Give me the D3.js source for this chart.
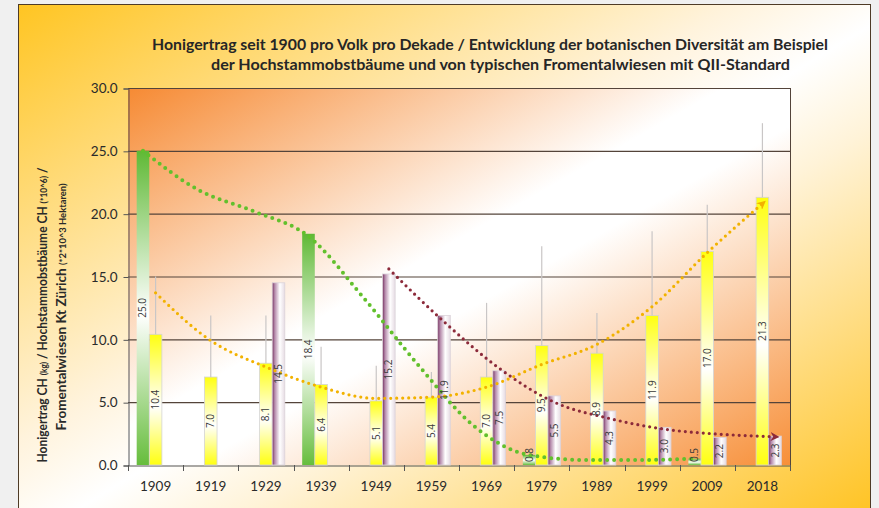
<!DOCTYPE html>
<html>
<head>
<meta charset="utf-8">
<script src="https://cdn.jsdelivr.net/npm/d3@7"></script>
<style>
  body { margin: 0; background: #f0f0f0; }
  svg { display: block; }
</style>
</head>
<body>
<div id="container"></div>
<script>
// data
const years = ['1909', '1919', '1929', '1939', '1949', '1959', '1969', '1979', '1989', '1999', '2009', '2018']
const hochstamm = [25.0, null, null, 18.4, null, null, null, 0.8, null, null, 0.5, null]
const honig = [10.4, 7.0, 8.1, 6.4, 5.1, 5.4, 7.0, 9.5, 8.9, 11.9, 17.0, 21.3]
const honigMax = [15.0, 11.9, 11.9, 9.4, 7.9, 7.4, 12.9, 17.4, 12.1, 18.6, 20.7, 27.2]
const fromental = [null, null, 14.5, null, 15.2, 11.9, 7.5, 5.5, 4.3, 3.0, 2.2, 2.3]

// trend lines (read at each category)
const hochTrend = [25.0, 21.9, 20.2, 18.2, 13.3, 7.9, 3.1, 0.8, 0.4, 0.4, 0.5, null]
const honigTrend = [13.7, 9.9, 7.8, 6.2, 5.3, 5.4, 6.2, 8.0, 9.6, 12.6, 16.9, 20.8]
const fromTrend = [null, null, null, null, 15.6, 11.4, 7.7, 5.0, 3.7, 2.85, 2.45, 2.25]

const yTicks = [0, 5, 10, 15, 20, 25, 30]
const titleLines = [
    'Honigertrag seit 1900 pro Volk pro Dekade / Entwicklung der botanischen Diversität am Beispiel',
    'der Hochstammobstbäume und von typischen Fromentalwiesen mit QII-Standard'
]

const width = 879
const height = 508
const plotL = 128, plotR = 790, plotT = 88, plotB = 465

const svg = d3.select('#container').append('svg')
    .attr('width', width)
    .attr('height', height)
    .style('font-family', 'Lato, "Open Sans", sans-serif')

const defs = svg.append('defs')

function grad(id, x2, y2, stops) {
    const g = defs.append('linearGradient').attr('id', id)
        .attr('x1', 0).attr('y1', 0).attr('x2', x2).attr('y2', y2)
    stops.forEach(s => g.append('stop').attr('offset', s[0]).attr('stop-color', s[1]))
}

grad('outerBg', 1, 1, [[0, '#ffc522'], [0.42, '#fff3dc'], [0.52, '#ffffff'], [0.62, '#fff3d8'], [1, '#ffc21e']])
grad('plotBg', 1, 1, [[0, '#f68a33'], [0.45, '#ffffff'], [0.55, '#ffffff'], [1, '#f78f38']])
grad('gHoch', 0, 1, [[0, '#5fb935'], [0.52, '#ffffff'], [1, '#66bd3c']])
grad('gHonig', 0, 1, [[0, '#ffff10'], [0.55, '#ffffff'], [1, '#ffff10']])
grad('gFrom', 1, 0, [[0, '#75305f'], [0.2, '#b58aab'], [0.6, '#ffffff'], [1, '#e6dbe3']])

function arrow(id, color) {
    defs.append('marker').attr('id', id)
        .attr('viewBox', '0 0 10 10').attr('refX', 5).attr('refY', 5)
        .attr('markerWidth', 9).attr('markerHeight', 9)
        .attr('markerUnits', 'userSpaceOnUse')
        .attr('orient', 'auto')
        .append('path').attr('d', 'M0,0 L10,5 L0,10 L3,5 Z').attr('fill', color)
}
arrow('arYellow', '#f2b200')
arrow('arRed', '#8c2a3a')

// outer chart area
svg.append('rect')
    .attr('x', 18.5).attr('y', 4.5)
    .attr('width', 852).attr('height', 520)
    .attr('fill', 'url(#outerBg)')
    .attr('stroke', '#4e3b26')

// plot area
svg.append('rect')
    .attr('x', plotL).attr('y', plotT)
    .attr('width', plotR - plotL).attr('height', plotB - plotT)
    .attr('fill', 'url(#plotBg)')

const x = d3.scaleBand().domain(years).range([plotL, plotR]).padding(0)
const xs = d3.scaleBand().domain(['hoch', 'honig', 'from'])
    .range([0, x.bandwidth()]).paddingInner(0).paddingOuter(0.69)
const y = d3.scaleLinear().domain([0, 30]).range([plotB, plotT])

// gridlines
svg.append('g').selectAll('line')
    .data(yTicks.filter(d => d > 0))
    .enter().append('line')
    .attr('x1', plotL).attr('x2', plotR)
    .attr('y1', d => y(d) + 0.5).attr('y2', d => y(d) + 0.5)
    .attr('stroke', '#54443a').attr('stroke-width', 1.1)

// right border
svg.append('line')
    .attr('x1', plotR + 0.5).attr('x2', plotR + 0.5)
    .attr('y1', plotT).attr('y2', plotB)
    .attr('stroke', '#54443a')

// y axis
const yAxis = d3.axisLeft(y).tickValues(yTicks).tickFormat(d3.format('.1f')).tickSize(5).tickPadding(6)
const yg = svg.append('g').attr('transform', `translate(${plotL + 0.5},0.5)`).call(yAxis)
yg.select('.domain').attr('stroke', '#555')
yg.selectAll('.tick line').attr('stroke', '#555')
yg.selectAll('.tick text').attr('font-size', 13.5).attr('fill', '#2a2a2a')
    .style('font-family', 'Lato, sans-serif')

// x axis
const xAxis = d3.axisBottom(x).tickSize(0).tickPadding(16)
const xg = svg.append('g').attr('transform', `translate(0,${plotB + 0.5})`).call(xAxis)
xg.select('.domain').attr('stroke', '#555')
xg.selectAll('.tick text').attr('font-size', 13.5).attr('fill', '#2a2a2a')
    .style('font-family', 'Lato, sans-serif')
svg.append('g').selectAll('line')
    .data(years.map(d => x(d)).concat([plotR]))
    .enter().append('line')
    .attr('x1', d => Math.round(d) + 0.5).attr('x2', d => Math.round(d) + 0.5)
    .attr('y1', plotB).attr('y2', plotB + 6)
    .attr('stroke', '#555')

// bars
const series = [
    {key: 'hoch', values: hochstamm, fill: 'url(#gHoch)', stroke: 'none'},
    {key: 'honig', values: honig, fill: 'url(#gHonig)', stroke: '#d4d4d4'},
    {key: 'from', values: fromental, fill: 'url(#gFrom)', stroke: '#dcd4da'}
]

series.forEach(s => {
    const data = years.map((yr, i) => ({year: yr, v: s.values[i]})).filter(d => d.v != null)
    svg.append('g').selectAll('rect')
        .data(data)
        .enter().append('rect')
        .attr('x', d => x(d.year) + xs(s.key))
        .attr('y', d => y(d.v))
        .attr('width', xs.bandwidth())
        .attr('height', d => y(0) - y(d.v))
        .attr('fill', s.fill)
        .attr('stroke', s.stroke)
        .attr('stroke-width', 0.8)
})

// error bars on honig
svg.append('g').selectAll('line')
    .data(years.map((yr, i) => ({year: yr, v: honig[i], m: honigMax[i]})))
    .enter().append('line')
    .attr('x1', d => x(d.year) + xs('honig') + xs.bandwidth() / 2)
    .attr('x2', d => x(d.year) + xs('honig') + xs.bandwidth() / 2)
    .attr('y1', d => y(d.v))
    .attr('y2', d => y(d.m))
    .attr('stroke', '#c9c6c6').attr('stroke-width', 1.2)

// trend lines
const trends = [
    {key: 'hoch', values: hochTrend, color: '#62c02c', w: 4, dash: '0 7', marker: null},
    {key: 'honig', values: honigTrend, color: '#f2b200', w: 3.2, dash: '0 6', marker: 'url(#arYellow)'},
    {key: 'from', values: fromTrend, color: '#8c2a3a', w: 3.2, dash: '0 6', marker: 'url(#arRed)'}
]
trends.forEach(t => {
    const pts = years.map((yr, i) => [x(yr) + xs(t.key) + xs.bandwidth() / 2, t.values[i]])
        .filter(p => p[1] != null)
    const line = d3.line().x(p => p[0]).y(p => y(p[1])).curve(d3.curveMonotoneX)
    svg.append('path')
        .attr('d', line(pts))
        .attr('fill', 'none')
        .attr('stroke', t.color)
        .attr('stroke-width', t.w)
        .attr('stroke-linecap', 'round')
        .attr('stroke-dasharray', t.dash)
        .attr('marker-end', t.marker)
})

// data labels
series.forEach(s => {
    const data = years.map((yr, i) => ({year: yr, v: s.values[i]})).filter(d => d.v != null)
    svg.append('g').selectAll('text')
        .data(data)
        .enter().append('text')
        .attr('transform', d => {
            const cx = x(d.year) + xs(s.key) + xs.bandwidth() / 2
            const cy = Math.min((y(d.v) + y(0)) / 2, y(0) - 10)
            return `translate(${cx},${cy}) rotate(-90)`
        })
        .attr('text-anchor', 'middle')
        .attr('dy', '0.35em')
        .attr('font-size', 10)
        .attr('fill', '#3a3a3a')
        .style('font-family', '"Open Sans", sans-serif')
        .text(d => d3.format('.1f')(d.v))
})

// title
const titleX = [152, 211]
const titleW = [676, 579]
titleLines.forEach((t, i) => {
    svg.append('text')
        .attr('x', titleX[i]).attr('y', 50 + i * 20)
        .attr('textLength', titleW[i])
        .attr('lengthAdjust', 'spacingAndGlyphs')
        .attr('font-size', 14.5)
        .attr('font-weight', 'bold')
        .attr('fill', '#262626')
        .text(t)
})

// y axis title
const yTitle = [
    [['Honigertrag CH ', 13], ['(kg)', 9], [' / Hochstammobstbäume CH ', 13], ['(*10^6)', 9], [' /', 13]],
    [['Fromentalwiesen Kt Zürich ', 13], ['(*2*10^3 Hektaren)', 9]]
]
const yTitlePos = [[47, 315, 295], [66, 307, 247]]
yTitle.forEach((parts, i) => {
    const tx = svg.append('text')
        .attr('transform', `translate(${yTitlePos[i][0]},${yTitlePos[i][1]}) rotate(-90)`)
        .attr('text-anchor', 'middle')
        .attr('font-weight', 'bold')
        .attr('fill', '#2a2a2a')
        .attr('textLength', yTitlePos[i][2])
        .attr('lengthAdjust', 'spacingAndGlyphs')
    parts.forEach(p => tx.append('tspan').attr('font-size', p[1]).text(p[0]))
})
</script>
</body>
</html>
